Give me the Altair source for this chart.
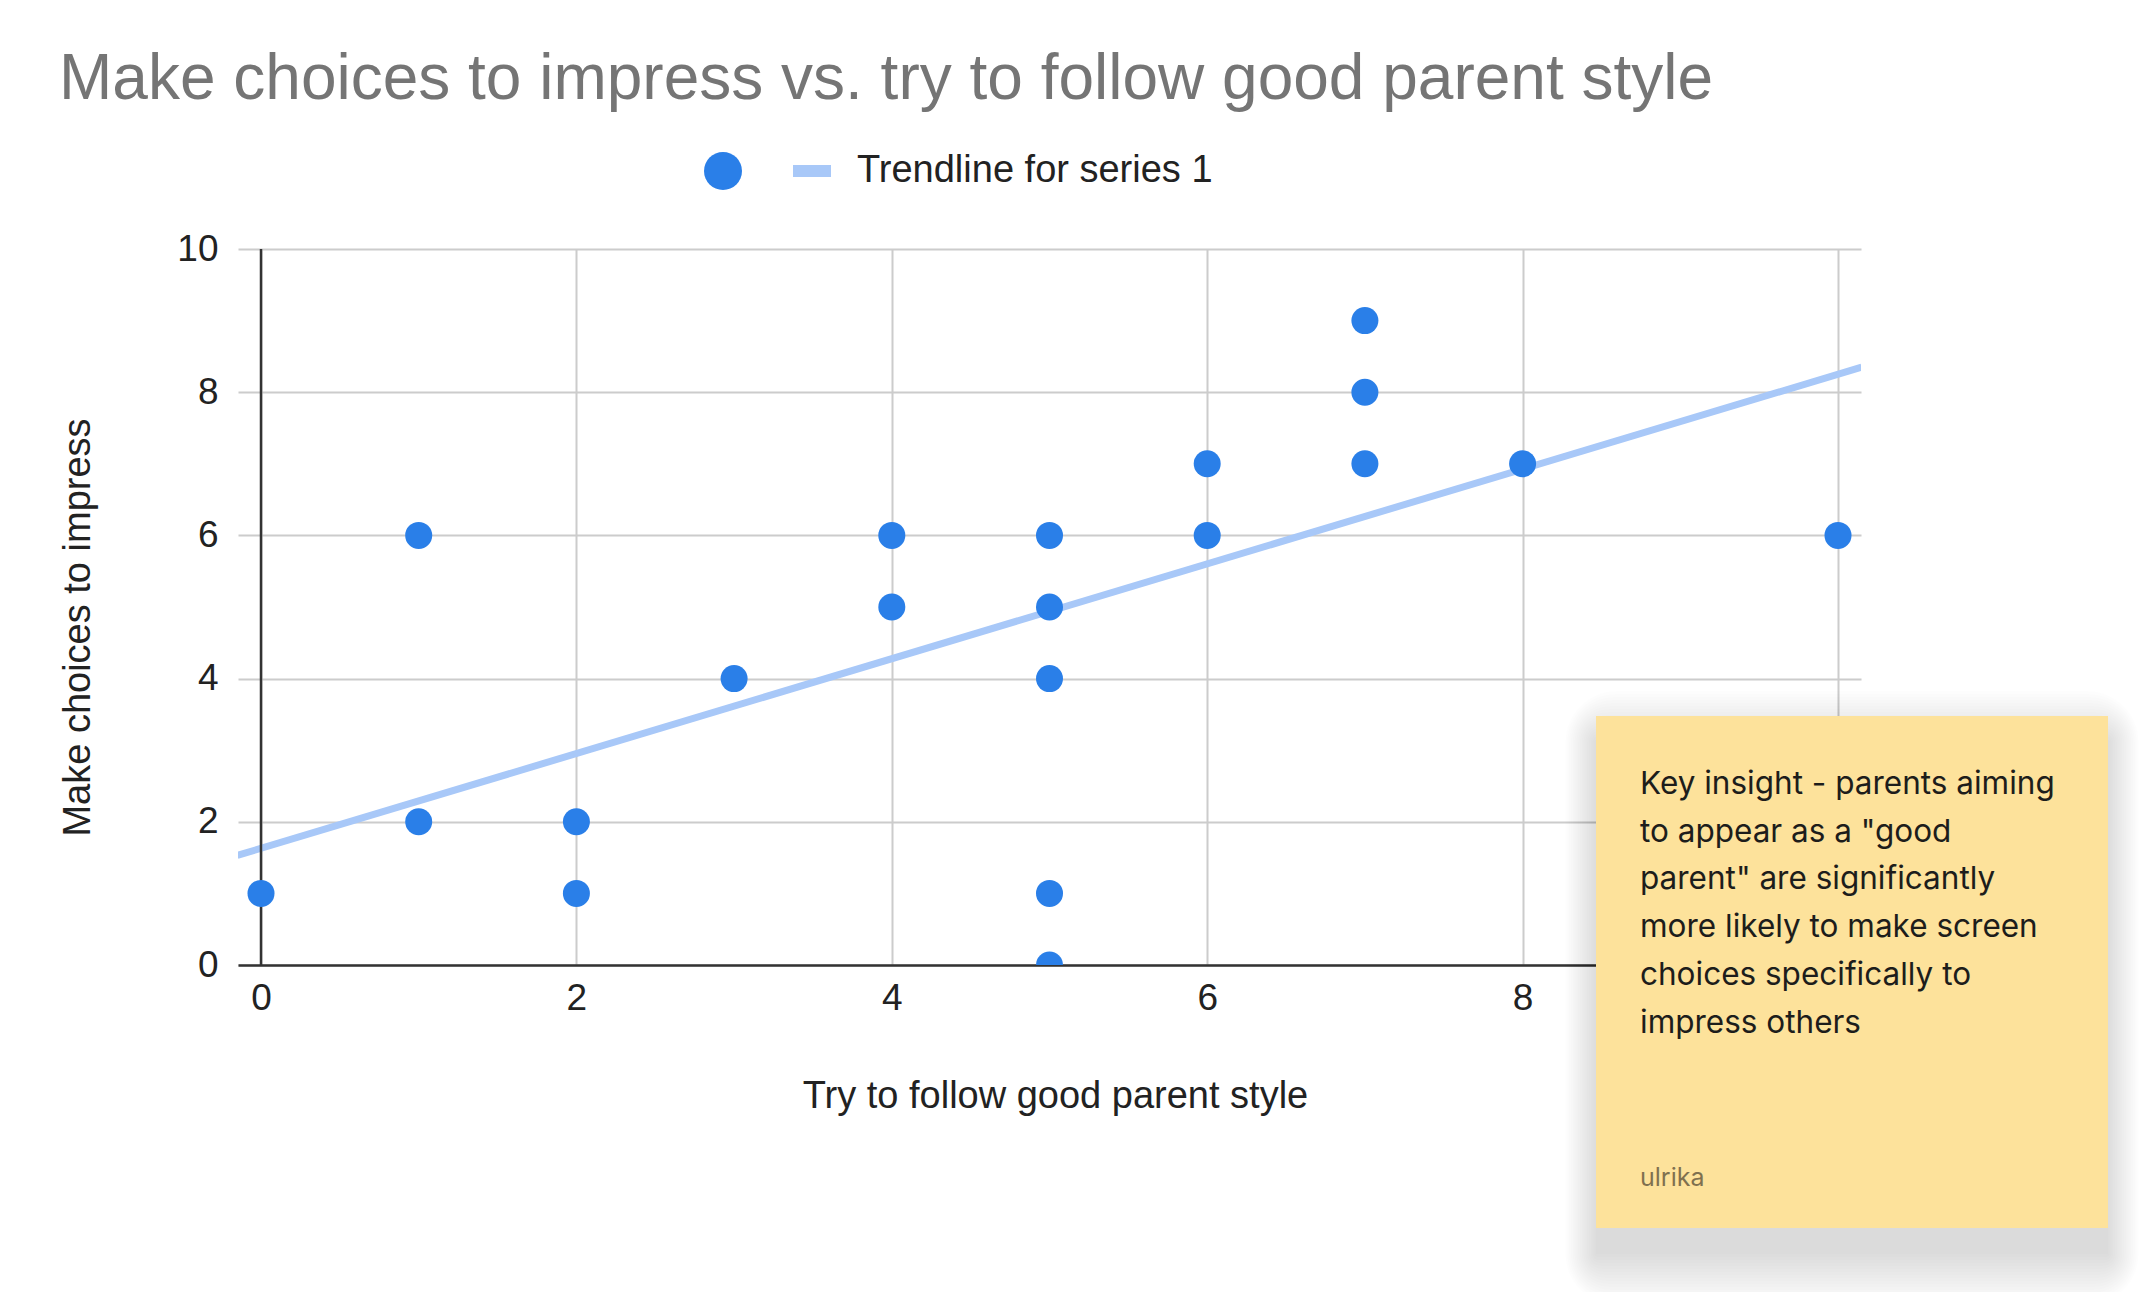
import altair as alt
import pandas as pd

# ---------------- data ----------------
X_VALS = [0, 1, 1, 2, 2, 3, 4, 4, 5, 5, 5, 5, 5, 6, 6, 7, 7, 7, 8, 10]
Y_VALS = [1, 6, 2, 2, 1, 4, 6, 5, 6, 5, 4, 1, 0, 7, 6, 9, 8, 7, 7, 6]
SERIES = ["Series 1", "Trendline for series 1"]
TREND_X = [-0.15, 10.15]
TREND_Y = [1.53, 8.35]
X_TICKS = [0, 2, 4, 6, 8, 10]
Y_TICKS = [0, 2, 4, 6, 8, 10]
TITLE = "Make choices to impress vs. try to follow good parent style"
X_TITLE = "Try to follow good parent style"
Y_TITLE = "Make choices to impress"
NOTE_LINES = [
    "Key insight - parents aiming",
    "to appear as a \"good",
    "parent\" are significantly",
    "more likely to make screen",
    "choices specifically to",
    "impress others",
]
NOTE_AUTHOR = "ulrika"

# ---------------- style ----------------
FONT = "Liberation Sans, Arial, Helvetica, sans-serif"
NOTE_FONT = "Inter, Noto Sans, sans-serif"
POINT_COLOR = "#2a7fe8"
TREND_COLOR = "#a8c8f8"
GRID = "#cccccc"
BASE = "#333333"
NOTE_BG = "#fde29b"

W, H = 1623, 716

pts = pd.DataFrame({"x": X_VALS, "y": Y_VALS, "series": SERIES[0]})
trend = pd.DataFrame({"x": TREND_X, "y": TREND_Y})
one = pd.DataFrame({"k": [0]})

xscale = alt.Scale(domain=[0, 10], padding=23, nice=False, zero=False)
yscale = alt.Scale(domain=[0, 10], nice=False)

xaxis = alt.Axis(values=X_TICKS, format="d", grid=True, labelFontSize=37, labelFont=FONT,
                 labelColor="#222222", labelPadding=15, ticks=False, domainColor=BASE,
                 domainWidth=2.5, gridColor=GRID, gridWidth=2, title=X_TITLE, titleFontSize=38,
                 titleFont=FONT, titleFontWeight="normal", titleColor="#222222",
                 titleX=817, titleY=142, titleBaseline="alphabetic", titleAlign="center",
                 labelFlush=False)
yaxis = alt.Axis(values=Y_TICKS, format="d", grid=True, labelFontSize=37, labelFont=FONT,
                 labelColor="#222222", labelPadding=20, ticks=False, domain=False,
                 gridColor=GRID, gridWidth=2, title=Y_TITLE, titleFontSize=38,
                 titleFont=FONT, titleFontWeight="normal", titleColor="#222222",
                 titleX=-149, titleY=378, titleBaseline="alphabetic", titleAlign="center",
                 titleAngle=270, labelFlush=False)

legend = alt.Legend(orient="none", legendX=466, legendY=-97, direction="horizontal",
                    title=None, labelExpr="datum.label == 'Series 1' ? '' : datum.label",
                    symbolSize=1444, labelFontSize=38, labelFont=FONT, labelColor="#222222",
                    labelOffset=26, columnPadding=25, symbolStrokeWidth=0,
                    symbolOpacity=1, labelLimit=0)

trend_line = alt.Chart(trend).mark_line(color=TREND_COLOR, strokeWidth=7, clip=True).encode(
    x=alt.X("x:Q", scale=xscale, axis=xaxis),
    y=alt.Y("y:Q", scale=yscale, axis=yaxis),
)

base_rule = alt.Chart(one).mark_rule(color=BASE, strokeWidth=2.5).encode(
    x=alt.datum(0, type="quantitative"),
    y=alt.datum(0, type="quantitative"),
    y2=alt.datum(10),
)

points = alt.Chart(pts).mark_point(filled=True, size=729, opacity=1, strokeWidth=0, clip=True).encode(
    x=alt.X("x:Q", scale=xscale, axis=xaxis),
    y=alt.Y("y:Q", scale=yscale, axis=yaxis),
    color=alt.Color("series:N", scale=alt.Scale(domain=SERIES, range=[POINT_COLOR, TREND_COLOR]),
                    legend=legend),
    shape=alt.Shape("series:N", scale=alt.Scale(domain=SERIES,
                    range=["circle", "M-1,-0.32H1V0.32H-1Z"]), legend=legend),
)

# sticky note (pixel placement relative to the plot origin)
NX0, NX1, NY0, NY1 = 1358, 1870, 467, 979
shadow_layers = []
for i in range(18):
    e = 3 * i
    shadow_layers.append(
        alt.Chart(one).mark_rect(color="black", opacity=0.008, cornerRadius=e).encode(
            x=alt.value(NX0 - e * 0.6), x2=alt.value(NX1 + e * 0.6),
            y=alt.value(NY0 - e + 26), y2=alt.value(NY1 + e + 26),
        )
    )

note = alt.Chart(one).mark_rect(color=NOTE_BG).encode(
    x=alt.value(NX0), x2=alt.value(NX1), y=alt.value(NY0), y2=alt.value(NY1)
)
note_text = alt.Chart(one).mark_text(align="left", baseline="alphabetic", font=NOTE_FONT,
                                     fontSize=31.5, lineHeight=47.7, color="#1d1d1b").encode(
    x=alt.value(1402), y=alt.value(545), text=alt.value(NOTE_LINES)
)
note_author = alt.Chart(one).mark_text(align="left", baseline="alphabetic", font=NOTE_FONT,
                                       fontSize=25, color="#7f704f").encode(
    x=alt.value(1402), y=alt.value(937), text=alt.value(NOTE_AUTHOR)
)

chart = alt.layer(trend_line, base_rule, points, *shadow_layers, note, note_text, note_author).properties(
    width=W, height=H,
    padding={"left": 230, "top": 241, "right": 279, "bottom": 327},
    autosize=alt.AutoSizeParams(type="none"),
    title=alt.Title(text=TITLE, anchor="start", fontSize=64, font=FONT, fontWeight="normal",
                    color="#757575", dx=0, dy=61, offset=50, baseline="alphabetic"),
    background="white",
).configure_view(stroke=None)

chart.save("out.html", embed_options={"renderer": "svg", "actions": False})
